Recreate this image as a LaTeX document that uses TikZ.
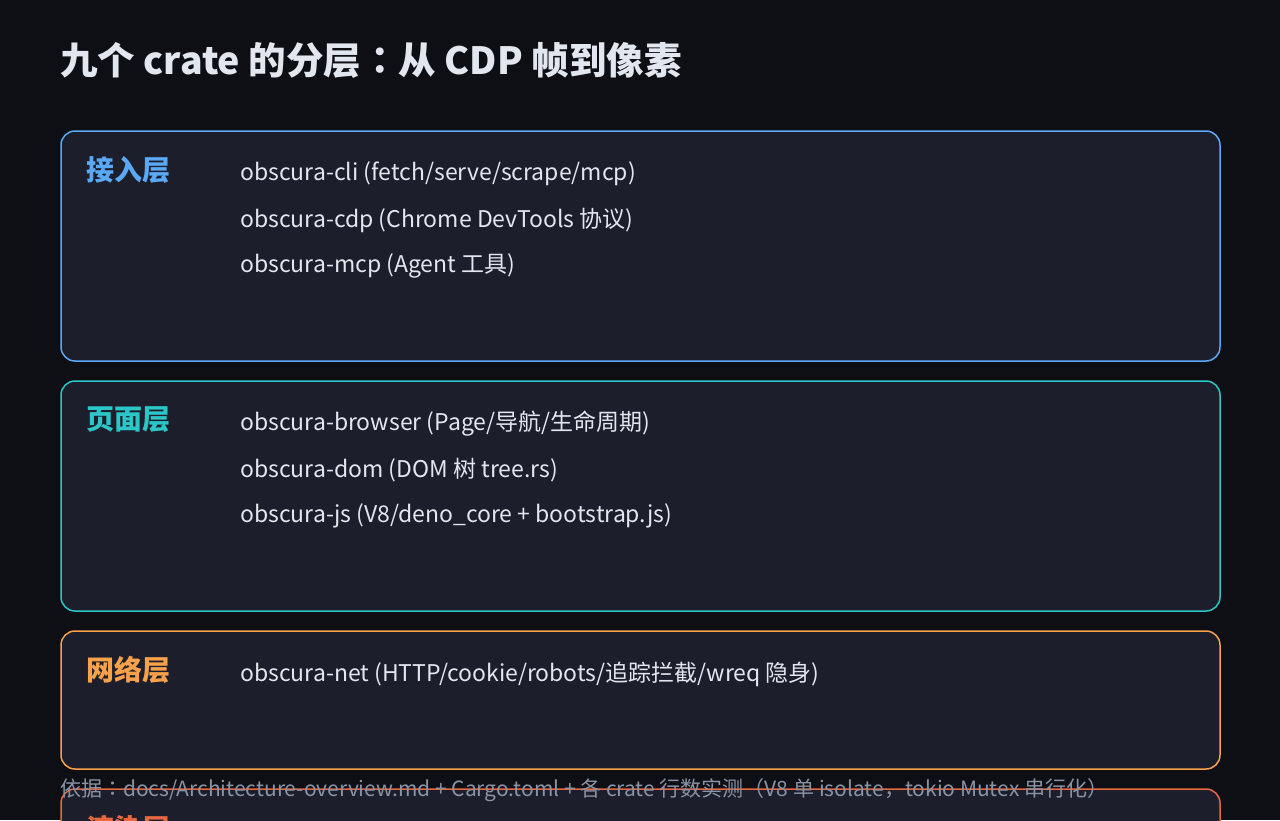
\documentclass[tikz,border=0pt]{standalone}
\usepackage{fontspec}
\setmainfont{Noto Sans CJK SC}
\newfontfamily\colonfont{Noto Sans CJK TC}
\usepackage{tikz}

\definecolor{bgcol}{HTML}{0D0F14}
\definecolor{boxfill}{HTML}{1C1F2B}
\definecolor{textcol}{HTML}{E2E6EE}
\definecolor{notecol}{HTML}{8A93A6}
\definecolor{accessblue}{HTML}{5AA8F6}
\definecolor{pageteal}{HTML}{2BC6C8}
\definecolor{netorange}{HTML}{F8A04A}
\definecolor{renderred}{HTML}{E8673F}

\newcommand{\cjkcolon}{{\colonfont ：}}

\begin{document}
\begin{tikzpicture}[x=1pt,y=-1pt]
	\tikzset{layerbox/.style = {draw, line width=1.5pt, rounded corners=14pt, fill=boxfill, minimum width=1159pt, minimum height=#1, inner sep=0pt}}
	\tikzset{layername/.style = {anchor=west, inner sep=0pt, font=\fontsize{28}{30}\selectfont\bfseries}}
	\tikzset{crateline/.style = {anchor=west, inner sep=0pt, text=textcol, font=\fontsize{23}{28}\selectfont}}
	\clip (0,0) rectangle (1280,820);
	\fill[bgcol] (0,0) rectangle (1280,820);
	% title
	\node[anchor=west, inner sep=0pt, text=textcol, font=\fontsize{37.5}{42}\selectfont\bfseries] (title) at (60,60) {九个 crate 的分层\cjkcolon 从 CDP 帧到像素};
	% layers
	\node[layerbox=230pt, draw=accessblue] (access) at (640.5,246) {};
	\node[layerbox=230pt, draw=pageteal] (page) at (640.5,496) {};
	\node[layerbox=138pt, draw=netorange] (net) at (640.5,700) {};
	\node[layerbox=230pt, draw=renderred] (render) at (640.5,904) {};
	% layer names
	\node[layername, text=accessblue] (accessname) at (86,170) {接入层};
	\node[layername, text=pageteal] (pagename) at (86,420) {页面层};
	\node[layername, text=netorange] (netname) at (86,670) {网络层};
	\node[layername, text=renderred] (rendername) at (86,829) {渲染层};
	% crates
	\node[crateline] (cli) at (240,174) {obscura-cli (fetch/serve/scrape/mcp)};
	\node[crateline] (cdp) at (240,220) {obscura-cdp (Chrome DevTools 协议)};
	\node[crateline] (mcp) at (240,266) {obscura-mcp (Agent 工具)};
	\node[crateline] (browser) at (240,424) {obscura-browser (Page/导航/生命周期)};
	\node[crateline] (dom) at (240,470) {obscura-dom (DOM 树 tree.rs)};
	\node[crateline] (js) at (240,516) {obscura-js (V8/deno\_core + bootstrap.js)};
	\node[crateline] (netcrate) at (240,674) {obscura-net (HTTP/cookie/robots/追踪拦截/wreq 隐身)};
	% note
	\node[anchor=west, inner sep=0pt, text=notecol, font=\fontsize{21}{26}\selectfont] (note) at (60,790) {依据\cjkcolon docs/Architecture-overview.md + Cargo.toml + 各 crate 行数实测（V8 单 isolate，tokio Mutex 串行化）};
\end{tikzpicture}
\end{document}
